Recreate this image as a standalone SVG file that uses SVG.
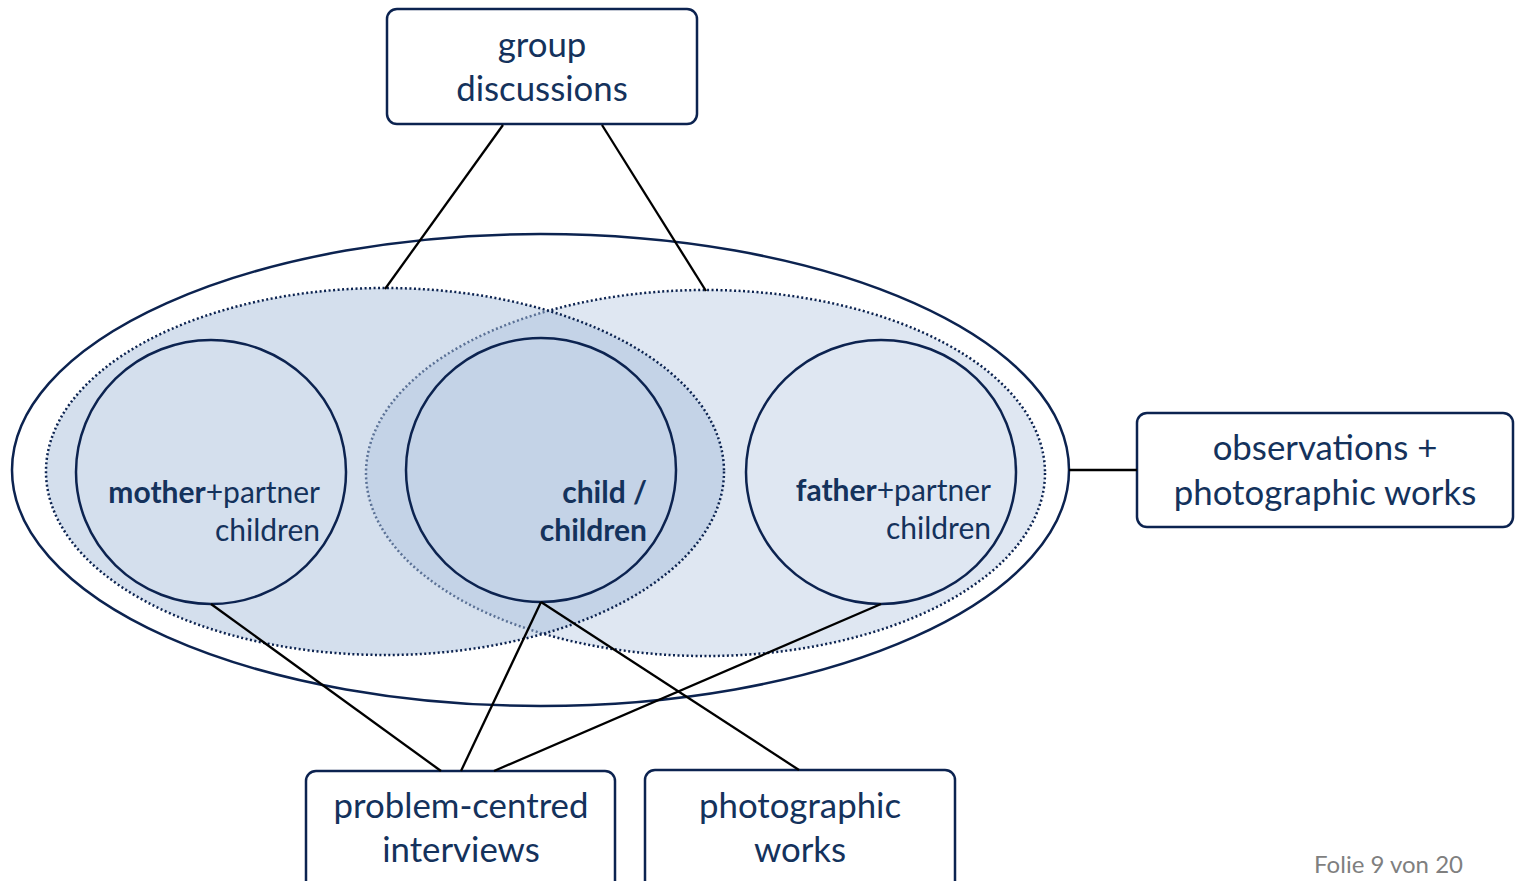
<svg xmlns="http://www.w3.org/2000/svg" width="1516" height="881" viewBox="0 0 1516 881">
<style>
.box{fill:#fff;stroke:#0c2350;stroke-width:2.5}
.ring{fill:none;stroke:#0c2350;stroke-width:2.5}
.dot{stroke:#0c2350;stroke-width:2.5;stroke-dasharray:2 2.5}
.t{font-family:Lato,"Liberation Sans",sans-serif;fill:#14325c}
.big{font-size:34.8px;text-anchor:middle}
.small{font-size:30px;text-anchor:end}
.b{font-weight:bold}
.conn{stroke:#000;stroke-width:2.3;fill:none}
</style>
<rect width="1516" height="881" fill="#fff"/>
<g id="outer-ellipse">
<ellipse cx="540.5" cy="470" rx="528.5" ry="236" fill="#fff" stroke="#0c2350" stroke-width="2.5"/>
</g>
<g id="father-ellipse">
<ellipse class="dot" cx="705.5" cy="473" rx="339.5" ry="183" fill="#dfe7f2"/>
</g>
<g id="mother-ellipse">
<ellipse class="dot" cx="385" cy="471.5" rx="339" ry="183.5" fill="#a9bfdb" fill-opacity="0.5"/>
</g>
<g id="mother-circle">
<ellipse class="ring" cx="211" cy="472" rx="135" ry="132"/>
<text class="t small" x="320" y="503"><tspan class="b">mother</tspan>+partner</text>
<text class="t small" x="320" y="541">children</text>
</g>
<g id="child-circle">
<ellipse class="ring" cx="541" cy="470" rx="135" ry="132"/>
<text class="t small b" x="647" y="503">child /</text>
<text class="t small b" x="647" y="541">children</text>
</g>
<g id="father-circle">
<ellipse class="ring" cx="881" cy="472" rx="135" ry="132"/>
<text class="t small" x="991" y="501"><tspan class="b">father</tspan>+partner</text>
<text class="t small" x="991" y="539">children</text>
</g>
<g id="group-discussions">
<rect class="box" x="387" y="9" width="310" height="115" rx="10"/>
<text class="t big" x="542" y="57">group</text>
<text class="t big" x="542" y="101">discussions</text>
</g>
<g id="observations">
<rect class="box" x="1137" y="413" width="376" height="114" rx="10"/>
<text class="t big" x="1325" y="460">observations +</text>
<text class="t big" x="1325" y="505">photographic works</text>
</g>
<g id="interviews">
<rect class="box" x="306" y="771" width="309" height="130" rx="10"/>
<text class="t big" x="461" y="818">problem-centred</text>
<text class="t big" x="461" y="862">interviews</text>
</g>
<g id="photographic-works">
<rect class="box" x="645" y="770" width="310" height="130" rx="10"/>
<text class="t big" x="800" y="818">photographic</text>
<text class="t big" x="800" y="862">works</text>
</g>
<g id="connectors">
<line class="conn" x1="503" y1="125" x2="385" y2="289"/>
<line class="conn" x1="602" y1="125" x2="706" y2="291"/>
<line class="conn" x1="1069" y1="470" x2="1137" y2="470"/>
<line class="conn" x1="211" y1="604" x2="441" y2="771"/>
<line class="conn" x1="541" y1="602" x2="461" y2="771"/>
<line class="conn" x1="541" y1="602" x2="799" y2="770"/>
<line class="conn" x1="881" y1="604" x2="494" y2="771"/>
</g>
<text x="1463" y="873" font-family="Lato,'Liberation Sans',sans-serif" font-size="24" fill="#7f7f7f" text-anchor="end">Folie 9 von 20</text>
</svg>
